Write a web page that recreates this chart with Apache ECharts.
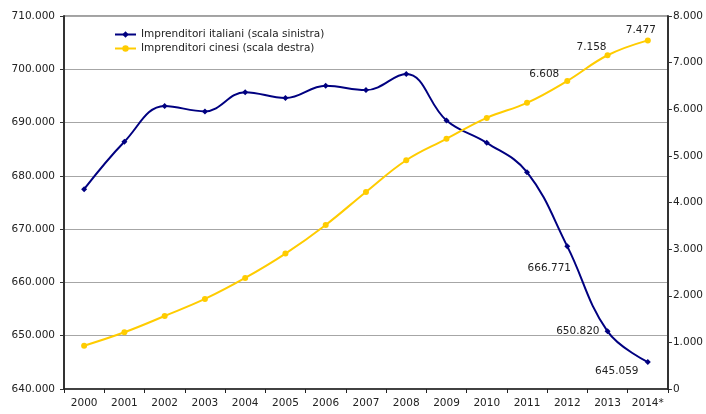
<!DOCTYPE html>
<html>
<head>
<meta charset="utf-8">
<script src="https://cdn.jsdelivr.net/npm/echarts@6/dist/echarts.min.js"></script>
<style>
  html, body { margin: 0; padding: 0; background: #fff; }
  #chart { width: 706px; height: 414px; }
</style>
</head>
<body>
<div id="chart"></div>
<script>
// anni
var years = ['2000', '2001', '2002', '2003', '2004', '2005', '2006', '2007',
  '2008', '2009', '2010', '2011', '2012', '2013', '2014*'];
// imprenditori italiani (scala sinistra)
var italiani = [677500, 686400, 693100, 692100, 695700, 694600, 696900, 696100,
  699100, 690400, 686200, 680700, 666771, 650820, 645059];
// imprenditori cinesi (scala destra)
var cinesi = [929, 1217, 1566, 1931, 2382, 2904, 3519, 4227,
  4907, 5365, 5815, 6137, 6608, 7158, 7477];

var FONT = 'DejaVu Sans';

function fmt(v) {
  return String(Math.round(v)).replace(/\B(?=(\d{3})+(?!\d))/g, '.');
}

// etichette solo sugli ultimi tre anni
var labItal = {
  12: { position: 'bottom', offset: [-18, 8] },
  13: { position: 'left', offset: [0, 0] },
  14: { position: 'bottom', offset: [-31, -4] }
};
var labCin = {
  12: { position: 'left', offset: [0, -7] },
  13: { position: 'left', offset: [7, -8] },
  14: { position: 'top', offset: [-7, 3] }
};

function withLabels(arr, labs) {
  return arr.map(function (v, i) {
    if (!labs[i]) return v;
    return {
      value: v,
      label: {
        show: true,
        position: labs[i].position,
        offset: labs[i].offset,
        formatter: function (p) { return fmt(p.value); },
        color: '#222',
        fontFamily: FONT,
        fontSize: 10.5
      }
    };
  });
}

var chart = echarts.init(document.getElementById('chart'));
chart.setOption({
  animation: false,
  grid: {
    left: 64, right: 38, top: 16, bottom: 25,
    show: true, borderColor: '#444', borderWidth: 1
  },
  legend: {
    orient: 'vertical',
    left: 109,
    top: 24,
    itemWidth: 21,
    itemHeight: 8,
    itemGap: 3,
    textStyle: { fontFamily: FONT, fontSize: 10.5, color: '#222' },
    data: ['Imprenditori italiani (scala sinistra)', 'Imprenditori cinesi (scala destra)']
  },
  xAxis: {
    type: 'category',
    data: years,
    boundaryGap: true,
    axisLine: { lineStyle: { color: '#222', width: 1.5 } },
    axisTick: { show: true, length: 4, lineStyle: { color: '#222' } },
    axisLabel: { color: '#222', fontFamily: FONT, fontSize: 10.5, margin: 9, interval: 0 }
  },
  yAxis: [
    {
      type: 'value',
      min: 640000,
      max: 710000,
      interval: 10000,
      axisLine: { show: true, lineStyle: { color: '#333', width: 2 } },
      axisTick: { show: true, length: 4, lineStyle: { color: '#333' } },
      axisLabel: { color: '#222', fontFamily: FONT, fontSize: 10.5, margin: 9, formatter: fmt },
      splitLine: { show: true, lineStyle: { color: '#a6a6a6', width: 1 } }
    },
    {
      type: 'value',
      position: 'right',
      min: 0,
      max: 8000,
      interval: 1000,
      axisLine: { show: true, lineStyle: { color: '#333', width: 2 } },
      axisTick: { show: true, inside: false, length: 4, lineStyle: { color: '#333' } },
      axisLabel: { color: '#222', fontFamily: FONT, fontSize: 10.5, margin: 5, formatter: fmt },
      splitLine: { show: false }
    }
  ],
  series: [
    {
      name: 'Imprenditori italiani (scala sinistra)',
      type: 'line',
      yAxisIndex: 0,
      smooth: 0.4,
      symbol: 'diamond',
      symbolSize: 6,
      lineStyle: { color: '#000080', width: 2 },
      itemStyle: { color: '#000080' },
      data: withLabels(italiani, labItal)
    },
    {
      name: 'Imprenditori cinesi (scala destra)',
      type: 'line',
      yAxisIndex: 1,
      smooth: 0.4,
      symbol: 'circle',
      symbolSize: 6,
      lineStyle: { color: '#ffcc00', width: 2 },
      itemStyle: { color: '#ffcc00' },
      data: withLabels(cinesi, labCin)
    }
  ]
});
</script>
</body>
</html>
